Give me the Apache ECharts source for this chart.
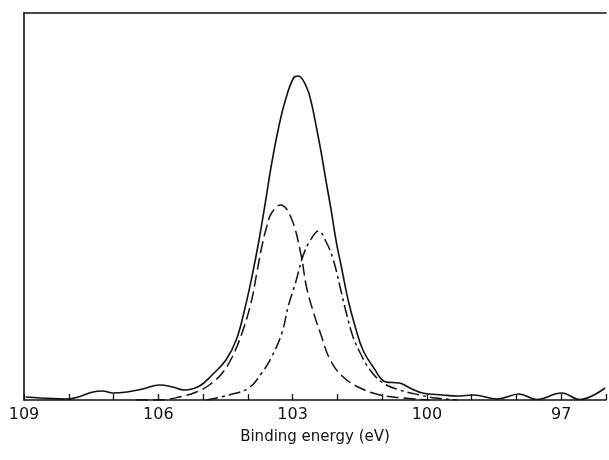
<!DOCTYPE html>
<html>
<head>
<meta charset="utf-8">
<title>Binding energy</title>
<script src="https://cdnjs.cloudflare.com/ajax/libs/echarts/6.0.0/echarts.min.js"></script>
<style>
  html, body { margin: 0; padding: 0; background: #fff; }
  #main { width: 609px; height: 460px; }
</style>
</head>
<body>
<div id="main"></div>
<script type="text/javascript">
// binding energy (eV) / intensity
var envelopeX = [108.96, 108.63, 108.03, 107.79, 107.46, 107.24, 107.01, 106.70, 106.35, 105.97,
                 105.68, 105.42, 105.08, 104.80, 104.49, 104.26, 104.09, 103.91, 103.75, 103.60,
                 103.47, 103.31, 103.16, 102.98, 102.87, 102.69, 102.58, 102.47, 102.36, 102.25,
                 102.14, 102.02, 101.91, 101.76, 101.60, 101.43, 101.20, 100.92, 100.61, 100.38,
                 100.10, 99.65, 99.32, 98.96, 98.43, 97.94, 97.55, 96.99, 96.59, 96.02];
var envelopeY = [3, 2, 1, 3, 8, 9, 7, 8, 11, 15,
                 13, 10, 14, 25, 40, 60, 87, 123, 160, 200,
                 236, 273, 300, 322, 324, 313, 297, 273, 247, 218,
                 190, 157, 133, 100, 73, 50, 33, 18, 17, 12,
                 7, 5, 4, 5, 1, 6, 0.5, 7, 0.5, 12];

var peak1X = [106.50, 105.97, 105.53, 105.15, 104.86, 104.57, 104.35, 104.13, 103.93, 103.80,
              103.69, 103.58, 103.47, 103.27, 103.04, 102.82, 102.69, 102.53, 102.38, 102.16,
              101.87, 101.49, 101.05, 100.54, 99.94];
var peak1Y = [0, 0, 3, 8, 15, 27, 43, 67, 97, 127,
              153, 173, 187, 195, 183, 147, 113, 87, 67, 40,
              23, 12, 5, 2, 0];

var peak2X = [104.93, 104.42, 103.98, 103.69, 103.47, 103.24, 103.09, 102.93, 102.76, 102.60,
              102.42, 102.25, 102.09, 101.94, 101.80, 101.65, 101.49, 101.27, 100.98, 100.61,
              100.16, 99.81, 99.32];
var peak2Y = [0, 5, 12, 27, 43, 67, 95, 118, 145, 160,
              169, 158, 140, 113, 87, 63, 47, 30, 17, 10,
              5, 2, 0];

var labelTicks = [109, 106, 103, 100, 97];

function pairs(xs, ys) {
  return xs.map(function (x, i) { return [x, ys[i]]; });
}

var myChart = echarts.init(document.getElementById('main'));
var ink = '#111';
var option = {
  animation: false,
  backgroundColor: '#fff',
  textStyle: { fontFamily: 'DejaVu Sans' },
  grid: { left: 24, right: 0, top: 13, bottom: 60 },
  xAxis: [{
    type: 'value',
    inverse: true,
    min: 96,
    max: 109,
    interval: 1,
    name: 'Binding energy (eV)',
    nameLocation: 'middle',
    nameGap: 30,
    nameTextStyle: { color: ink, fontSize: 15 },
    axisLine: { lineStyle: { color: ink, width: 1.6 } },
    axisTick: { inside: true, length: 6, lineStyle: { color: ink, width: 1.3 } },
    axisLabel: {
      color: ink,
      fontSize: 16,
      margin: 7,
      showMinLabel: true,
      showMaxLabel: true,
      formatter: function (v) {
        return labelTicks.indexOf(v) >= 0 ? String(v) : '';
      }
    },
    splitLine: { show: false }
  }, {
    // top frame line
    type: 'value',
    position: 'top',
    inverse: true,
    min: 96,
    max: 109,
    axisLine: { lineStyle: { color: ink, width: 1.6 } },
    axisTick: { show: false },
    axisLabel: { show: false },
    splitLine: { show: false }
  }],
  yAxis: {
    type: 'value',
    min: 0,
    max: 387,
    axisLine: { show: true, lineStyle: { color: ink, width: 1.6 } },
    axisTick: { show: false },
    axisLabel: { show: false },
    splitLine: { show: false }
  },
  series: [
    {
      name: 'envelope',
      type: 'line',
      data: pairs(envelopeX, envelopeY),
      smooth: 0.4,
      showSymbol: false,
      lineStyle: { color: ink, width: 1.6 }
    },
    {
      name: 'peak 1',
      type: 'line',
      data: pairs(peak1X, peak1Y),
      smooth: 0.4,
      showSymbol: false,
      lineStyle: { color: ink, width: 1.5, type: [12, 5] }
    },
    {
      name: 'peak 2',
      type: 'line',
      data: pairs(peak2X, peak2Y),
      smooth: 0.4,
      showSymbol: false,
      lineStyle: { color: ink, width: 1.5, type: [12, 4, 3, 4] }
    }
  ]
};
myChart.setOption(option);
</script>
</body>
</html>
